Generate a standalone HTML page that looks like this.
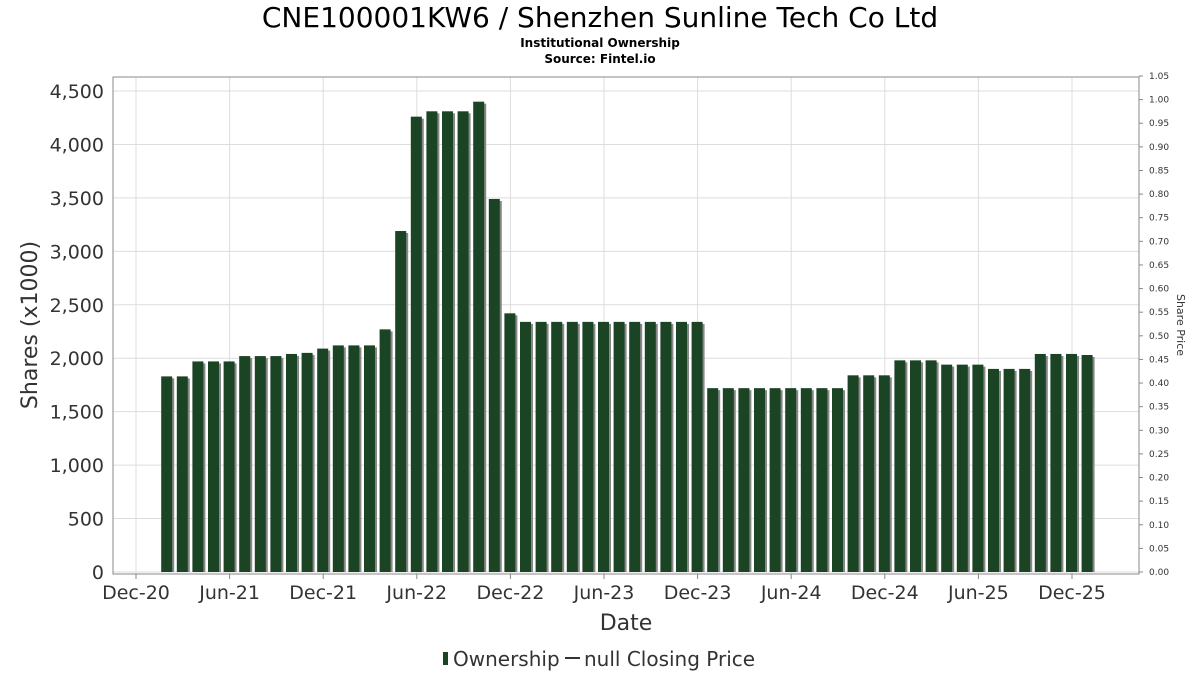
<!DOCTYPE html>
<html><head><meta charset="utf-8"><style>
body{margin:0;background:#fff;font-family:"DejaVu Sans","Liberation Sans",sans-serif}
</style></head><body>
<svg id="c" width="1200" height="675" xmlns="http://www.w3.org/2000/svg">
<text x="600" y="27" text-anchor="middle" font-size="28" fill="#000">CNE100001KW6 / Shenzhen Sunline Tech Co Ltd</text>
<text x="600" y="47" text-anchor="middle" font-size="12" font-weight="bold">Institutional Ownership</text>
<text x="600" y="63" text-anchor="middle" font-size="12" font-weight="bold">Source: Fintel.io</text>
<g id="grid"></g><g id="bars"></g><g id="axes"></g>
<text transform="translate(37,325) rotate(-90)" text-anchor="middle" font-size="22" fill="#333">Shares (x1000)</text>
<text transform="translate(1177,325) rotate(90)" text-anchor="middle" font-size="11" fill="#333">Share Price</text>
<text x="626" y="630" text-anchor="middle" font-size="22" fill="#333">Date</text>
<g>
<rect x="443" y="652" width="5" height="13" fill="#1a4423"/>
<text x="453" y="666" font-size="20" fill="#333">Ownership</text>
<line x1="565" y1="658" x2="580" y2="658" stroke="#333" stroke-width="2"/>
<text x="584" y="666" font-size="20" fill="#333">null Closing Price</text>
</g>
</svg>
<script>
const values=[1830,1830,1970,1970,1970,2020,2020,2020,2040,2050,2090,2120,2120,2120,2270,3190,4260,4310,4310,4310,4400,3490,2420,2340,2340,2340,2340,2340,2340,2340,2340,2340,2340,2340,2340,1720,1720,1720,1720,1720,1720,1720,1720,1720,1840,1840,1840,1980,1980,1980,1940,1940,1940,1900,1900,1900,2040,2040,2040,2030];
const yTicks=[0,500,1000,1500,2000,2500,3000,3500,4000,4500];
const rTicks=[0,0.05,0.1,0.15,0.2,0.25,0.3,0.35,0.4,0.45,0.5,0.55,0.6,0.65,0.7,0.75,0.8,0.85,0.9,0.95,1.0,1.05];
const xLabels=["Dec-20","Jun-21","Dec-21","Jun-22","Dec-22","Jun-23","Dec-23","Jun-24","Dec-24","Jun-25","Dec-25"];
const NS="http://www.w3.org/2000/svg";
const L=113,R=1139,T=77,B=574;
const y=v=>572-v*(481/4500);
const yr=v=>572-v*(496/1.05);
const xm=m=>136+m*15.6;
function mk(tag,attrs,parent,text){const e=document.createElementNS(NS,tag);for(const k in attrs)e.setAttribute(k,attrs[k]);if(text!=null)e.textContent=text;parent.appendChild(e);return e;}
const grid=document.getElementById('grid'),bars=document.getElementById('bars'),axes=document.getElementById('axes');
yTicks.forEach(t=>{
  const g=mk('line',{x1:L,x2:R,y1:y(t),y2:y(t),stroke:'#ddd'},grid);
  
  
  const tx=mk('text',{x:104,y:y(t)+7,'text-anchor':'end','font-size':19,fill:'#333'},axes,t.toLocaleString('en-US'));
  
  
});
xLabels.forEach((lb,i)=>{
  const X=xm(i*6);
  const g=mk('line',{x1:X,x2:X,y1:T,y2:B,stroke:'#ddd'},grid);
  
  
  mk('line',{x1:X,x2:X,y1:B,y2:B+5,stroke:'#888'},axes);
  const tx=mk('text',{x:X,y:599,'text-anchor':'middle','font-size':19,fill:'#333'},axes,lb);
  
  
});
rTicks.forEach(t=>{
  mk('line',{x1:R,x2:R+4,y1:yr(t),y2:yr(t),stroke:'#888'},axes);
  const tx=mk('text',{x:1149,y:yr(t)+3,'font-size':9,fill:'#333'},axes,t.toFixed(2));
  
  
});
mk('rect',{x:L,y:T,width:R-L,height:B-T,fill:'none',stroke:'#888'},axes);
values.forEach((v,i)=>{
  const cx=xm(i+2),top=y(v);
  const s=mk('rect',{x:cx-6+2,y:top+2,width:11,height:572-top-2,fill:'#888'},bars);
  
  
  const b=mk('rect',{x:cx-6,y:top,width:11,height:572-top,fill:'#1a4423'},bars);
  
  
});
</script>
</body></html>
